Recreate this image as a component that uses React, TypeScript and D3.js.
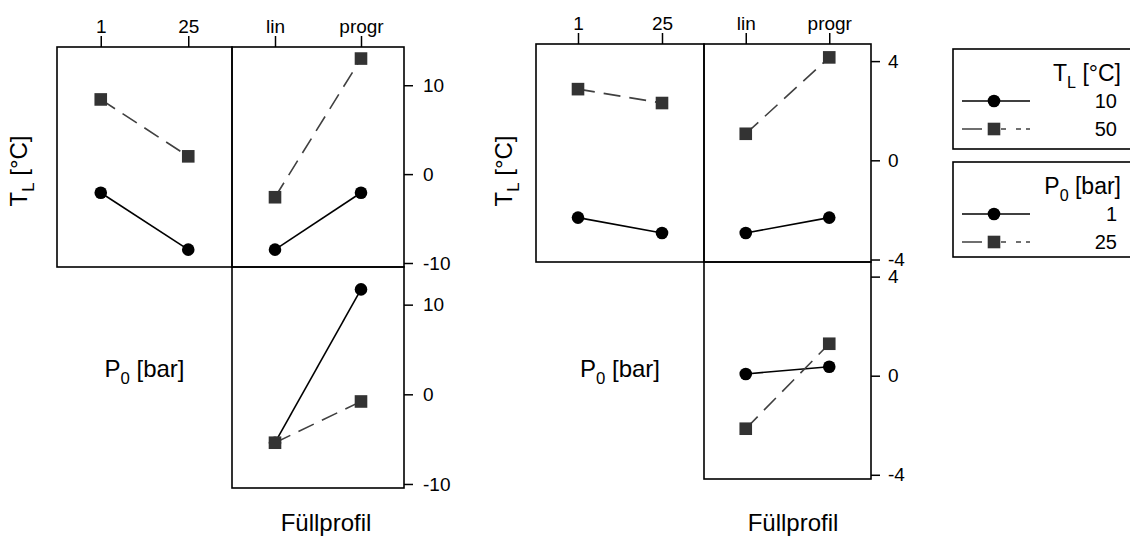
import React, { useEffect, useRef } from "react";
import * as d3 from "d3";

// factor levels
const p0Levels = ["1", "25"];
const fuellLevels = ["lin", "progr"];
const tlLegend = ["10", "50"];
const p0Legend = ["1", "25"];

// left chart: means of T_L
const leftTl10ByP0 = [-2.1, -8.5];
const leftTl50ByP0 = [8.4, 2.0];
const leftTl10ByFuell = [-8.5, -2.1];
const leftTl50ByFuell = [-2.6, 13.0];
const leftP01ByFuell = [-5.4, 11.7];
const leftP025ByFuell = [-5.4, -0.8];
const leftTicks = [-10, 0, 10];

// right chart
const rightTl10ByP0 = [-2.31, -2.93];
const rightTl50ByP0 = [2.87, 2.31];
const rightTl10ByFuell = [-2.93, -2.31];
const rightTl50ByFuell = [1.07, 4.15];
const rightP01ByFuell = [0.07, 0.36];
const rightP025ByFuell = [-2.14, 1.29];
const rightTicks = [-4, 0, 4];

const FONT = '"Liberation Sans", Arial, Helvetica, sans-serif';
const SQ = "#333333";
const DASH = "17,9";

const App = () => {
  const ref = useRef(null);

  useEffect(() => {
    const svg = d3.select(ref.current);
    svg.selectAll("*").remove();

    const styleAxis = (sel) => {
      sel.select(".domain").remove();
      sel.selectAll("line").attr("stroke", "#000").attr("stroke-width", 1.5);
      sel.selectAll("text").attr("fill", "#000").style("font-family", FONT).style("font-size", "19px");
    };

    const subLabel = (text, main, sub, rest, size) => {
      text.append("tspan").text(main);
      text.append("tspan").attr("dy", size * 0.3).style("font-size", `${size * 0.7}px`).text(sub);
      text.append("tspan").attr("dy", -size * 0.3).text(rest);
    };

    const drawSeries = (g, x, y, values, solid) => {
      const pts = values.map((v, i) => [x(x.domain()[i]), y(v)]);
      g.append("path")
        .attr("d", d3.line()(pts))
        .attr("fill", "none")
        .attr("stroke", solid ? "#000" : "#404040")
        .attr("stroke-width", 1.6)
        .attr("stroke-dasharray", solid ? null : DASH);
      if (solid) {
        g.selectAll(null).data(pts).join("circle")
          .attr("cx", d => d[0]).attr("cy", d => d[1]).attr("r", 6.3).attr("fill", "#000");
      } else {
        g.selectAll(null).data(pts).join("rect")
          .attr("x", d => d[0] - 6.3).attr("y", d => d[1] - 6.3)
          .attr("width", 12.6).attr("height", 12.6).attr("fill", SQ);
      }
    };

    const drawChart = (c) => {
      const g = svg.append("g");
      const xP0 = d3.scalePoint().domain(p0Levels).range([c.x0, c.xm]).padding(0.5);
      const xFu = d3.scalePoint().domain(fuellLevels).range([c.xm, c.x1]).padding(0.5);
      const yTop = d3.scaleLinear().domain(c.topDomain).range([c.ym, c.y0]);
      const yBot = d3.scaleLinear().domain(c.botDomain).range([c.y1, c.ym]);

      // data
      drawSeries(g, xP0, yTop, c.tl10ByP0, true);
      drawSeries(g, xP0, yTop, c.tl50ByP0, false);
      drawSeries(g, xFu, yTop, c.tl10ByFuell, true);
      drawSeries(g, xFu, yTop, c.tl50ByFuell, false);
      drawSeries(g, xFu, yBot, c.p01ByFuell, true);
      drawSeries(g, xFu, yBot, c.p025ByFuell, false);

      // panel boxes
      [[c.x0, c.y0, c.xm, c.ym], [c.xm, c.y0, c.x1, c.ym], [c.xm, c.ym, c.x1, c.y1]].forEach(([a, b, e, f]) => {
        g.append("rect").attr("x", a).attr("y", b).attr("width", e - a).attr("height", f - b)
          .attr("fill", "none").attr("stroke", "#000").attr("stroke-width", 1.6);
      });

      // axes
      g.append("g").attr("transform", `translate(0,${c.y0})`)
        .call(d3.axisTop(xP0).tickSize(11).tickPadding(3)).call(styleAxis);
      g.append("g").attr("transform", `translate(0,${c.y0})`)
        .call(d3.axisTop(xFu).tickSize(11).tickPadding(3)).call(styleAxis);
      g.append("g").attr("transform", `translate(${c.x1},0)`)
        .call(d3.axisRight(yTop).tickValues(c.ticks).tickSize(9).tickPadding(c.tickPad).tickFormat(d => String(d)))
        .call(styleAxis);
      g.append("g").attr("transform", `translate(${c.x1},0)`)
        .call(d3.axisRight(yBot).tickValues(c.ticks).tickSize(9).tickPadding(c.tickPad).tickFormat(d => String(d)))
        .call(styleAxis);

      // labels
      const yl = g.append("text")
        .attr("transform", `translate(${c.ylabX},${c.ylabY}) rotate(-90)`)
        .attr("text-anchor", "middle")
        .style("font-family", FONT).style("font-size", "24px");
      subLabel(yl, "T", "L", " [°C]", 24);

      const pl = g.append("text")
        .attr("x", (c.x0 + c.xm) / 2).attr("y", c.p0labY)
        .attr("text-anchor", "middle")
        .style("font-family", FONT).style("font-size", "24px");
      subLabel(pl, "P", "0", " [bar]", 24);

      g.append("text")
        .attr("x", c.fuLabX).attr("y", c.fuLabY)
        .attr("text-anchor", "middle")
        .style("font-family", FONT).style("font-size", "24px")
        .text("Füllprofil");
    };

    drawChart({
      x0: 57, xm: 232, x1: 404, y0: 47, ym: 267, y1: 488,
      topDomain: [-10.45, 14.3], botDomain: [-10.45, 14.2], ticks: leftTicks, tickPad: 10,
      tl10ByP0: leftTl10ByP0, tl50ByP0: leftTl50ByP0,
      tl10ByFuell: leftTl10ByFuell, tl50ByFuell: leftTl50ByFuell,
      p01ByFuell: leftP01ByFuell, p025ByFuell: leftP025ByFuell,
      ylabX: 27, ylabY: 171, p0labY: 377, fuLabX: 326, fuLabY: 531
    });

    drawChart({
      x0: 536, xm: 704, x1: 871, y0: 44, ym: 262, y1: 479,
      topDomain: [-4.1, 4.69], botDomain: [-4.17, 4.59], ticks: rightTicks, tickPad: 8,
      tl10ByP0: rightTl10ByP0, tl50ByP0: rightTl50ByP0,
      tl10ByFuell: rightTl10ByFuell, tl50ByFuell: rightTl50ByFuell,
      p01ByFuell: rightP01ByFuell, p025ByFuell: rightP025ByFuell,
      ylabX: 512, ylabY: 171, p0labY: 377, fuLabX: 793, fuLabY: 531
    });

    // legends
    const drawLegend = (top, height, main, sub, rest, labels) => {
      const lg = svg.append("g");
      lg.append("rect").attr("x", 953).attr("y", top).attr("width", 200).attr("height", height)
        .attr("fill", "none").attr("stroke", "#000").attr("stroke-width", 1.6);
      const t = lg.append("text").attr("x", 1121).attr("y", top + 32)
        .attr("text-anchor", "end").style("font-family", FONT).style("font-size", "23px");
      subLabel(t, main, sub, rest, 23);
      labels.forEach((lab, i) => {
        const yy = top + 52 + i * 28;
        const solid = i === 0;
        lg.append("line").attr("x1", 962).attr("x2", 1030).attr("y1", yy).attr("y2", yy)
          .attr("stroke", solid ? "#000" : "#404040").attr("stroke-width", 1.6)
          .attr("stroke-dasharray", solid ? null : "20,7,0,12,5,10,5,5");
        if (solid) {
          lg.append("circle").attr("cx", 994).attr("cy", yy).attr("r", 6.3).attr("fill", "#000");
        } else {
          lg.append("rect").attr("x", 994 - 6.3).attr("y", yy - 6.3).attr("width", 12.6).attr("height", 12.6).attr("fill", SQ);
        }
        lg.append("text").attr("x", 1117).attr("y", yy + 7).attr("text-anchor", "end")
          .style("font-family", FONT).style("font-size", "20px").text(lab);
      });
    };
    drawLegend(49, 100, "T", "L", " [°C]", tlLegend);
    drawLegend(162, 95, "P", "0", " [bar]", p0Legend);
  }, []);

  return (
    <svg
      ref={ref}
      width={1130}
      height={536}
      style={{ position: "absolute", left: 0, top: 0, background: "#fff" }}
    />
  );
};

export default App;
